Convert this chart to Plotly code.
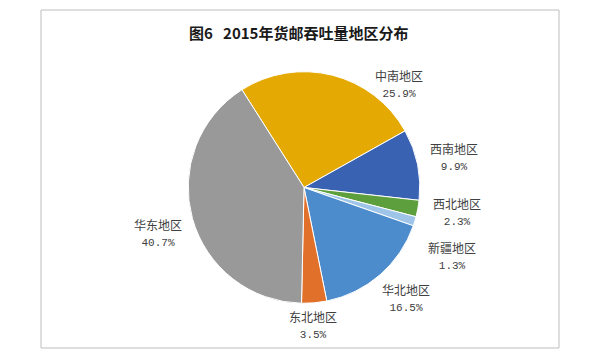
import plotly.graph_objects as go

# ---- data ----
regions = ["中南地区", "西南地区", "西北地区", "新疆地区", "华北地区", "东北地区", "华东地区"]
shares = [25.9, 9.9, 2.3, 1.3, 16.5, 3.5, 40.7]
title_text = "图6&nbsp;&nbsp;&nbsp;2015年货邮吞吐量地区分布"

# ---- styles / layout ----
colors = ["#E4AA03", "#3A62B3", "#5E9F3D", "#9EC4E8", "#4C8CCD", "#E1702A", "#999999"]
W, H = 600, 362
# label block centers in pixels (layout only)
label_px = [(399, 84), (454, 157), (457, 212), (452, 255), (406, 297), (313, 324), (158, 232)]
pie_cx, pie_cy, pie_r = 304, 187.5, 115.8
first_slice_start_deg = -32.4

fig = go.Figure()
fig.add_trace(go.Pie(
    labels=regions,
    values=shares,
    sort=False,
    direction="clockwise",
    rotation=first_slice_start_deg,
    marker=dict(colors=colors, line=dict(color="white", width=1)),
    textinfo="none",
    hoverinfo="label+value",
    showlegend=False,
    domain=dict(x=[(pie_cx - pie_r) / W, (pie_cx + pie_r) / W],
                y=[1 - (pie_cy + pie_r) / H, 1 - (pie_cy - pie_r) / H]),
))

annotations = []
for name, val, (px, py) in zip(regions, shares, label_px):
    annotations.append(dict(
        x=px / W, y=1 - py / H, xref="paper", yref="paper",
        xanchor="center", yanchor="middle", showarrow=False,
        text=f"{name}<br><span style=\"font-family:'Liberation Mono', 'DejaVu Sans Mono', monospace; font-size:11px\">{val:.1f}%</span>",
        font=dict(family="Noto Sans CJK SC", size=12, color="#404040"),
        align="center",
    ))

annotations.append(dict(
    x=298 / W, y=1 - 32 / H, xref="paper", yref="paper",
    xanchor="center", yanchor="middle", showarrow=False,
    text=f"<b>{title_text}</b>",
    font=dict(family="Noto Sans CJK SC", size=15, color="#1a1a1a"),
))

fig.update_layout(
    width=W, height=H,
    margin=dict(l=0, r=0, t=0, b=0),
    paper_bgcolor="white",
    plot_bgcolor="white",
    annotations=annotations,
    shapes=[dict(type="rect", xref="paper", yref="paper",
                 x0=41 / W, x1=559 / W, y0=1 - 348 / H, y1=1 - 10 / H,
                 line=dict(color="#BDBDBD", width=1))],
)

fig.write_html("out.html",
               config={"displayModeBar": False},
               post_script="document.body.style.margin='0';document.body.style.padding='0';")
